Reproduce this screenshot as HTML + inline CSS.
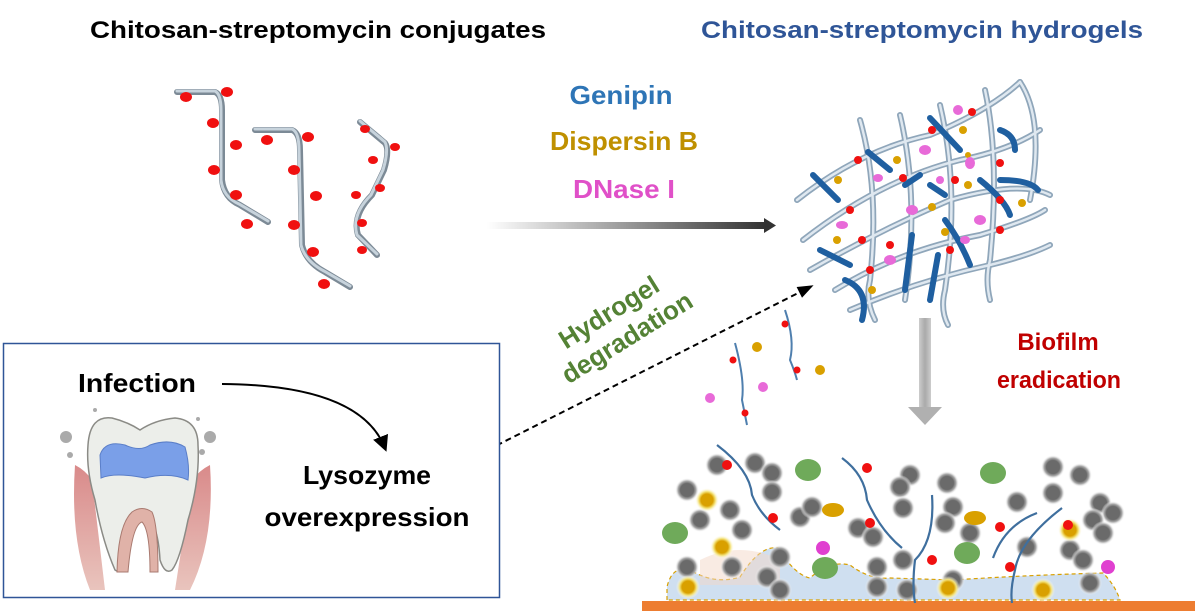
<!DOCTYPE html>
<html><head><meta charset="utf-8"><style>
html,body{margin:0;padding:0;background:#fff;}
svg{display:block;font-family:"Liberation Sans",sans-serif;font-weight:bold;}
</style></head><body>
<svg width="1200" height="614" viewBox="0 0 1200 614" xmlns="http://www.w3.org/2000/svg">
<defs>
<linearGradient id="ag" x1="0" x2="1"><stop offset="0" stop-color="#fff"/><stop offset="1" stop-color="#333"/></linearGradient>
<linearGradient id="ga" x1="0" x2="1"><stop offset="0" stop-color="#ccc"/><stop offset=".5" stop-color="#aaa"/><stop offset="1" stop-color="#ccc"/></linearGradient>
<radialGradient id="gc"><stop offset=".55" stop-color="#6a6a6a"/><stop offset=".75" stop-color="#aaa"/><stop offset="1" stop-color="#fff" stop-opacity="0"/></radialGradient>
<radialGradient id="yc"><stop offset=".5" stop-color="#d9a000"/><stop offset=".7" stop-color="#f3e27a"/><stop offset="1" stop-color="#fff" stop-opacity="0"/></radialGradient>
<linearGradient id="gum" x1="0" x2="0" y1="0" y2="1"><stop offset="0" stop-color="#d98a8a"/><stop offset="1" stop-color="#e9c4bd"/></linearGradient>
<marker id="ah" markerWidth="8" markerHeight="8" refX="6" refY="4" orient="auto"><path d="M0,0 L8,4 L0,8 Z" fill="#000"/></marker>
<marker id="ah2" markerWidth="8" markerHeight="8" refX="6" refY="4" orient="auto"><path d="M0,1 L8,4 L0,7 Z" fill="#000"/></marker>
</defs>

<text x="318" y="38" font-size="24" text-anchor="middle" fill="#000" textLength="456" lengthAdjust="spacingAndGlyphs">Chitosan-streptomycin conjugates</text>
<text x="922" y="38" font-size="24" text-anchor="middle" fill="#2f5597" textLength="442" lengthAdjust="spacingAndGlyphs">Chitosan-streptomycin hydrogels</text>
<text x="621" y="104" font-size="26" text-anchor="middle" fill="#2e75b6" textLength="103" lengthAdjust="spacingAndGlyphs">Genipin</text>
<text x="624" y="150" font-size="26" text-anchor="middle" fill="#bf9000" textLength="148" lengthAdjust="spacingAndGlyphs">Dispersin B</text>
<text x="624" y="198" font-size="26" text-anchor="middle" fill="#e050c8" textLength="102" lengthAdjust="spacingAndGlyphs">DNase I</text>

<rect x="487" y="222" width="278" height="7" fill="url(#ag)"/>
<path d="M764,218 L776,225.5 L764,233 Z" fill="#333"/>

<g fill="none" stroke-linecap="round">
<g stroke="#7c8a96" stroke-width="6">
<path d="M177,92 L215,92 Q222,95 222,110 L222,180 Q224,198 240,205 L268,222"/>
<path d="M255,130 L292,130 Q300,133 300,150 L302,245 Q306,262 325,272 L350,287"/>
<path d="M360,122 L385,143 Q390,150 384,170 L372,195 Q352,215 358,235 L377,255"/>
</g>
<g stroke="#c7d3dc" stroke-width="3">
<path d="M177,91 L215,91 Q221,94 221,110 L221,180 Q223,197 239,204 L268,221"/>
<path d="M255,129 L292,129 Q299,132 299,150 L301,245 Q305,261 324,271 L350,286"/>
<path d="M360,121 L385,142 Q389,150 383,170 L371,195 Q351,215 357,235 L377,254"/>
</g>
</g>
<g fill="#f01010">
<ellipse cx="186" cy="97" rx="6" ry="5"/><ellipse cx="227" cy="92" rx="6" ry="5"/><ellipse cx="213" cy="123" rx="6" ry="5"/><ellipse cx="236" cy="145" rx="6" ry="5"/><ellipse cx="214" cy="170" rx="6" ry="5"/><ellipse cx="236" cy="195" rx="6" ry="5"/><ellipse cx="247" cy="224" rx="6" ry="5"/>
<ellipse cx="267" cy="140" rx="6" ry="5"/><ellipse cx="308" cy="137" rx="6" ry="5"/><ellipse cx="294" cy="170" rx="6" ry="5"/><ellipse cx="316" cy="196" rx="6" ry="5"/><ellipse cx="294" cy="225" rx="6" ry="5"/><ellipse cx="313" cy="252" rx="6" ry="5"/><ellipse cx="324" cy="284" rx="6" ry="5"/>
<ellipse cx="365" cy="129" rx="5" ry="4"/><ellipse cx="395" cy="147" rx="5" ry="4"/><ellipse cx="373" cy="160" rx="5" ry="4"/><ellipse cx="380" cy="188" rx="5" ry="4"/><ellipse cx="356" cy="195" rx="5" ry="4"/><ellipse cx="362" cy="223" rx="5" ry="4"/><ellipse cx="362" cy="250" rx="5" ry="4"/>
</g>

<g fill="none" stroke-linecap="round">
<g stroke="#8fa6ba" stroke-width="6">
<path d="M797,200 Q860,150 930,135 Q990,110 1020,82"/>
<path d="M803,240 Q880,180 960,160 Q1010,150 1040,130"/>
<path d="M810,270 Q880,230 950,200 Q1020,180 1050,195"/>
<path d="M835,290 Q900,250 980,235 Q1030,220 1045,210"/>
<path d="M850,310 Q920,280 990,265 Q1030,255 1050,245"/>
<path d="M860,120 Q880,190 870,280 Q865,300 875,320"/>
<path d="M900,115 Q920,200 905,300"/>
<path d="M940,105 Q960,190 945,290 Q940,310 948,325"/>
<path d="M985,90 Q1000,160 990,260 Q985,280 990,300"/>
<path d="M1020,82 Q1045,120 1030,200"/>
</g>
<g stroke="#dfe8f0" stroke-width="2.5">
<path d="M797,200 Q860,150 930,135 Q990,110 1020,82"/>
<path d="M803,240 Q880,180 960,160 Q1010,150 1040,130"/>
<path d="M810,270 Q880,230 950,200 Q1020,180 1050,195"/>
<path d="M835,290 Q900,250 980,235 Q1030,220 1045,210"/>
<path d="M850,310 Q920,280 990,265 Q1030,255 1050,245"/>
<path d="M860,120 Q880,190 870,280 Q865,300 875,320"/>
<path d="M900,115 Q920,200 905,300"/>
<path d="M940,105 Q960,190 945,290 Q940,310 948,325"/>
<path d="M985,90 Q1000,160 990,260 Q985,280 990,300"/>
<path d="M1020,82 Q1045,120 1030,200"/>
</g>
<g stroke="#1f5fa0" stroke-width="6">
<path d="M813,175 L838,200"/><path d="M868,152 L890,170"/><path d="M930,118 L960,150"/><path d="M1000,130 Q1015,135 1015,150"/>
<path d="M820,250 L850,265"/><path d="M905,185 L920,175"/><path d="M930,185 L945,195"/><path d="M980,180 Q1005,200 1010,215"/>
<path d="M1000,180 Q1030,180 1038,190"/><path d="M845,280 Q870,290 862,320"/><path d="M912,235 L905,290"/><path d="M938,255 L930,300"/><path d="M945,220 Q960,240 970,265"/>
</g>
</g>
<g>
<g fill="#f01010"><circle cx="858" cy="160" r="4"/><circle cx="932" cy="130" r="4"/><circle cx="972" cy="112" r="4"/><circle cx="903" cy="178" r="4"/><circle cx="955" cy="180" r="4"/><circle cx="1000" cy="163" r="4"/><circle cx="1000" cy="200" r="4"/><circle cx="850" cy="210" r="4"/><circle cx="862" cy="240" r="4"/><circle cx="890" cy="245" r="4"/><circle cx="870" cy="270" r="4"/><circle cx="950" cy="250" r="4"/><circle cx="1000" cy="230" r="4"/></g>
<g fill="#d9a000"><circle cx="838" cy="180" r="4"/><circle cx="897" cy="160" r="4"/><circle cx="963" cy="130" r="4"/><circle cx="968" cy="185" r="4"/><circle cx="932" cy="207" r="4"/><circle cx="1022" cy="203" r="4"/><circle cx="837" cy="240" r="4"/><circle cx="945" cy="232" r="4"/><circle cx="872" cy="290" r="4"/><circle cx="968" cy="155" r="3"/></g>
<g fill="#e86ad8"><ellipse cx="925" cy="150" rx="6" ry="5"/><ellipse cx="958" cy="110" rx="5" ry="5"/><ellipse cx="878" cy="178" rx="5" ry="4"/><ellipse cx="970" cy="163" rx="5" ry="6"/><ellipse cx="842" cy="225" rx="6" ry="4"/><ellipse cx="912" cy="210" rx="6" ry="5"/><ellipse cx="980" cy="220" rx="6" ry="5"/><ellipse cx="965" cy="240" rx="5" ry="4"/><ellipse cx="890" cy="260" rx="6" ry="5"/><ellipse cx="940" cy="180" rx="4" ry="4"/></g>
</g>

<g transform="rotate(-32 620 330)" fill="#548235" font-size="26" text-anchor="middle">
<text x="620" y="318">Hydrogel</text>
<text x="622" y="349">degradation</text>
</g>
<line x1="452" y1="468" x2="810" y2="287" stroke="#000" stroke-width="2" stroke-dasharray="6,4" marker-end="url(#ah2)"/>

<rect x="3.5" y="343.5" width="496" height="254" fill="#fff" stroke="#2f5597" stroke-width="1.5"/>
<text x="137" y="392" font-size="26" text-anchor="middle" fill="#000" textLength="118" lengthAdjust="spacingAndGlyphs">Infection</text>
<text x="367" y="484" font-size="26" text-anchor="middle" fill="#000" textLength="128" lengthAdjust="spacingAndGlyphs">Lysozyme</text>
<text x="367" y="526" font-size="26" text-anchor="middle" fill="#000" textLength="205" lengthAdjust="spacingAndGlyphs">overexpression</text>
<path d="M222,384 Q360,385 385,448" fill="none" stroke="#000" stroke-width="2" marker-end="url(#ah)"/>

<g>
<path d="M75,465 Q70,540 90,590 L190,590 Q215,540 210,465 Q200,470 192,480 L175,590 L105,590 L92,480 Q85,470 75,465 Z" fill="url(#gum)"/>
<path d="M88,445 Q90,415 112,418 Q128,422 140,430 Q155,420 175,418 Q198,420 198,445 Q200,480 188,520 Q180,560 172,570 Q165,575 160,560 Q158,520 142,510 Q128,515 125,560 Q122,575 115,570 Q102,540 95,500 Q86,470 88,445 Z" fill="#eceeea" stroke="#8b8b86" stroke-width="1.5"/>
<path d="M100,455 Q105,440 125,445 Q140,452 150,445 Q170,438 185,447 Q190,465 188,480 Q170,472 145,478 Q115,472 101,478 Z" fill="#7a9fe8" stroke="#5a7ec8" stroke-width="1"/>
<path d="M117,572 Q118,525 132,512 Q142,505 152,512 Q158,525 158,572 L150,572 Q150,530 142,522 Q132,525 128,572 Z" fill="#e0b2a8" stroke="#a97a70" stroke-width="1"/>
<g fill="#aaa"><circle cx="66" cy="437" r="6"/><circle cx="210" cy="437" r="6"/><circle cx="70" cy="455" r="3"/><circle cx="202" cy="452" r="3"/><circle cx="95" cy="410" r="2"/><circle cx="198" cy="419" r="2"/></g>
</g>

<rect x="919" y="318" width="12" height="90" fill="url(#ga)"/>
<path d="M908,407 L942,407 L925,425 Z" fill="#b0b0b0"/>
<text x="1058" y="350" font-size="24" text-anchor="middle" fill="#c00000">Biofilm</text>
<text x="1059" y="388" font-size="24" text-anchor="middle" fill="#c00000" textLength="124" lengthAdjust="spacingAndGlyphs">eradication</text>

<g fill="none" stroke="#4f7fae" stroke-width="2"><path d="M735,343 Q745,380 742,400 Q745,415 747,425"/><path d="M785,310 Q795,340 790,360 Q795,372 797,380"/></g>
<g fill="#f01010"><circle cx="785" cy="324" r="3.5"/><circle cx="733" cy="360" r="3.5"/><circle cx="797" cy="370" r="3.5"/><circle cx="745" cy="413" r="3.5"/></g>
<g fill="#d9a000"><circle cx="757" cy="347" r="5"/><circle cx="820" cy="370" r="5"/></g>
<g fill="#e86ad8"><circle cx="710" cy="398" r="5"/><circle cx="763" cy="387" r="5"/></g>

<rect x="642" y="601" width="553" height="10" fill="#ed7d31"/>
<path d="M667,600 L667,587 Q672,565 690,570 Q715,585 740,577 Q760,545 778,548 Q795,575 810,578 Q830,560 850,565 Q870,580 890,578 L953,580 Q1030,575 1103,573 Q1115,585 1120,600 Z" fill="#cfdff0" stroke="#d9a000" stroke-width="1.2" stroke-dasharray="4,3"/>
<path d="M700,560 Q740,540 780,560 L780,585 L700,585 Z" fill="#f3d8c8" opacity=".5"/>
<g fill="url(#gc)">
<circle cx="717" cy="465" r="12"/><circle cx="755" cy="463" r="12"/><circle cx="772" cy="473" r="12"/><circle cx="772" cy="492" r="12"/><circle cx="687" cy="490" r="12"/><circle cx="730" cy="510" r="12"/><circle cx="700" cy="520" r="12"/><circle cx="742" cy="530" r="12"/><circle cx="800" cy="517" r="12"/><circle cx="812" cy="507" r="12"/><circle cx="858" cy="528" r="12"/><circle cx="873" cy="537" r="12"/><circle cx="780" cy="557" r="12"/><circle cx="767" cy="577" r="12"/><circle cx="780" cy="590" r="12"/><circle cx="687" cy="567" r="12"/><circle cx="732" cy="567" r="12"/><circle cx="877" cy="567" r="12"/><circle cx="877" cy="587" r="12"/><circle cx="903" cy="560" r="12"/><circle cx="910" cy="475" r="12"/><circle cx="900" cy="487" r="12"/><circle cx="903" cy="508" r="12"/><circle cx="947" cy="483" r="12"/><circle cx="953" cy="507" r="12"/><circle cx="945" cy="523" r="12"/><circle cx="970" cy="533" r="12"/><circle cx="1017" cy="502" r="12"/><circle cx="1053" cy="467" r="12"/><circle cx="1080" cy="475" r="12"/><circle cx="1053" cy="493" r="12"/><circle cx="1027" cy="547" r="12"/><circle cx="1070" cy="550" r="12"/><circle cx="1083" cy="560" r="12"/><circle cx="1100" cy="503" r="12"/><circle cx="1113" cy="513" r="12"/><circle cx="1093" cy="520" r="12"/><circle cx="1103" cy="533" r="12"/><circle cx="1090" cy="583" r="12"/><circle cx="953" cy="580" r="12"/><circle cx="907" cy="590" r="12"/>
</g>
<g fill="url(#yc)"><circle cx="707" cy="500" r="12"/><circle cx="722" cy="547" r="12"/><circle cx="688" cy="587" r="12"/><circle cx="948" cy="588" r="12"/><circle cx="1043" cy="590" r="12"/><circle cx="1070" cy="530" r="12"/></g>
<g fill="#6faa5a"><ellipse cx="808" cy="470" rx="13" ry="11"/><ellipse cx="675" cy="533" rx="13" ry="11"/><ellipse cx="825" cy="568" rx="13" ry="11"/><ellipse cx="967" cy="553" rx="13" ry="11"/><ellipse cx="993" cy="473" rx="13" ry="11"/></g>
<g fill="#d9a000"><ellipse cx="833" cy="510" rx="11" ry="7"/><ellipse cx="975" cy="518" rx="11" ry="7"/></g>
<g fill="#e040d0"><circle cx="823" cy="548" r="7"/><circle cx="1108" cy="567" r="7"/></g>
<g fill="none" stroke="#3f6f9e" stroke-width="2.2"><path d="M717,445 Q750,470 752,495 Q760,515 780,530"/><path d="M842,458 Q865,475 867,500 Q880,530 902,548"/><path d="M932,495 Q935,540 915,560 Q912,585 915,603"/><path d="M1062,508 Q1020,540 1015,570 Q1010,590 1012,603"/><path d="M1037,513 Q1005,525 993,558"/></g>
<g fill="#f01010"><circle cx="727" cy="465" r="5"/><circle cx="867" cy="468" r="5"/><circle cx="773" cy="518" r="5"/><circle cx="870" cy="523" r="5"/><circle cx="932" cy="560" r="5"/><circle cx="1000" cy="527" r="5"/><circle cx="1010" cy="567" r="5"/><circle cx="1068" cy="525" r="5"/></g>
</svg>
</body></html>
